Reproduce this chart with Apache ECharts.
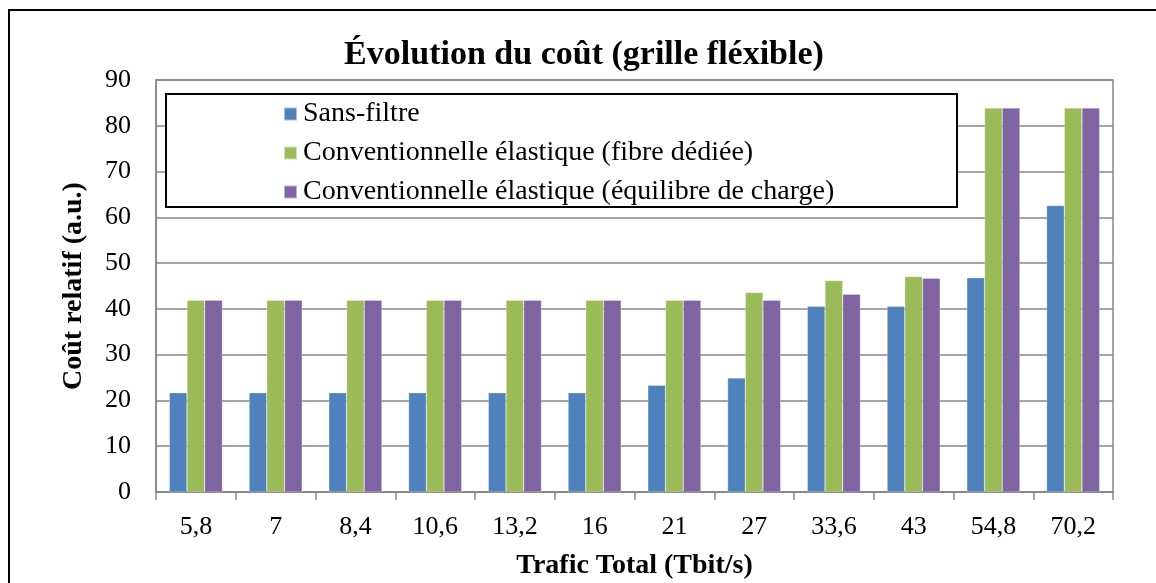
<!DOCTYPE html>
<html>
<head>
<meta charset="utf-8">
<script src="https://cdn.jsdelivr.net/npm/echarts@6/dist/echarts.min.js"></script>
<style>
    html, body { margin: 0; padding: 0; background: #fff; }
    #chart { width: 1156px; height: 583px; }
</style>
</head>
<body>
<div id="chart"></div>
<script>
// valeurs
const categories = ['5,8', '7', '8,4', '10,6', '13,2', '16', '21', '27', '33,6', '43', '54,8', '70,2']
const sansFiltre = [21.7, 21.7, 21.7, 21.7, 21.7, 21.7, 23.3, 24.9, 40.6, 40.6, 46.8, 62.6]
const fibreDediee = [41.9, 41.9, 41.9, 41.9, 41.9, 41.9, 41.9, 43.6, 46.2, 47.1, 83.9, 83.9]
const equilibreCharge = [41.9, 41.9, 41.9, 41.9, 41.9, 41.9, 41.9, 41.9, 43.2, 46.7, 83.9, 83.9]
const seriesNames = [
    'Sans-filtre',
    'Conventionnelle élastique (fibre dédiée)',
    'Conventionnelle élastique (équilibre de charge)'
]

const font = '"Liberation Serif", "Times New Roman", serif'
const gray = '#868686'

const barSeries = (name, data, color) => ({
    name: name,
    type: 'bar',
    data: data,
    barWidth: 17.7,
    barGap: '0%',
    itemStyle: {
        color: color,
        borderColor: 'rgba(255,255,255,0.5)',
        borderWidth: 0.5
    }
})

const chart = echarts.init(document.getElementById('chart'))

chart.setOption({
    animation: false,
    backgroundColor: '#fff',
    title: {
        text: 'Évolution du coût (grille fléxible)',
        left: 579,
        top: 33,
        textAlign: 'center',
        textStyle: {
            fontFamily: font,
            fontSize: 34,
            fontWeight: 'bold',
            color: '#000'
        }
    },
    graphic: [
        {
            type: 'rect',
            z: 0,
            shape: { x: 9, y: 10, width: 1200, height: 620 },
            style: { fill: 'none', stroke: '#000', lineWidth: 2 }
        },
        {
            type: 'rect',
            z: 10,
            shape: { x: 166, y: 94, width: 791, height: 113 },
            style: { fill: '#fff', stroke: '#000', lineWidth: 2 }
        }
    ],
    legend: {
        z: 20,
        orient: 'vertical',
        left: 283,
        top: 100,
        padding: 0,
        itemWidth: 13,
        itemHeight: 13,
        itemGap: 11,
        icon: 'rect',
        data: seriesNames,
        textStyle: {
            fontFamily: font,
            fontSize: 28,
            color: '#000',
            padding: [0, 0, 0, 1]
        }
    },
    grid: {
        left: 156,
        right: 43,
        top: 80,
        bottom: 91,
        show: true,
        borderColor: gray,
        borderWidth: 1.5,
        containLabel: false,
        outerBoundsMode: 'none'
    },
    xAxis: {
        type: 'category',
        data: categories,
        name: 'Trafic Total (Tbit/s)',
        nameLocation: 'middle',
        nameGap: 60,
        nameTextStyle: {
            fontFamily: font,
            fontSize: 28,
            fontWeight: 'bold',
            color: '#000'
        },
        axisLine: { lineStyle: { color: gray, width: 1.5 } },
        axisTick: { show: true, length: 8, lineStyle: { color: gray, width: 1.5 } },
        axisLabel: {
            fontFamily: font,
            fontSize: 26,
            color: '#000',
            margin: 22
        }
    },
    yAxis: {
        type: 'value',
        min: 0,
        max: 90,
        interval: 10,
        name: 'Coût relatif (a.u.)',
        nameLocation: 'middle',
        nameGap: 68,
        nameRotate: 90,
        nameTextStyle: {
            fontFamily: font,
            fontSize: 28,
            fontWeight: 'bold',
            color: '#000'
        },
        axisLine: { show: true, lineStyle: { color: gray, width: 1.5 } },
        axisTick: { show: false },
        axisLabel: {
            fontFamily: font,
            fontSize: 26,
            color: '#000',
            margin: 25
        },
        splitLine: { lineStyle: { color: gray, width: 1.5 } }
    },
    series: [
        barSeries(seriesNames[0], sansFiltre, '#4F81BD'),
        barSeries(seriesNames[1], fibreDediee, '#9BBB59'),
        barSeries(seriesNames[2], equilibreCharge, '#8064A2')
    ]
})
</script>
</body>
</html>
